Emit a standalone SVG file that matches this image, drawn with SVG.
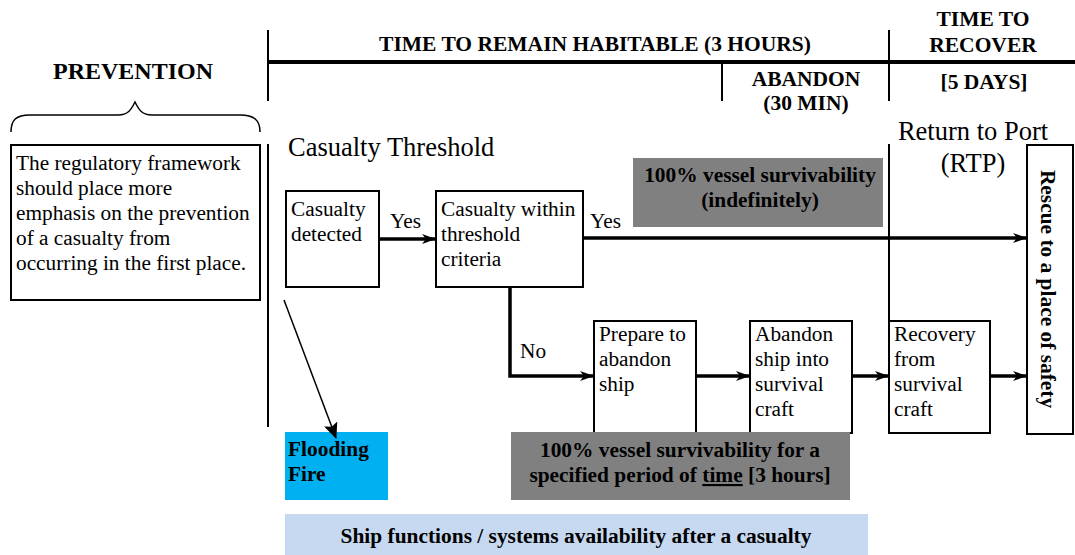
<svg xmlns="http://www.w3.org/2000/svg" width="1075" height="555" viewBox="0 0 1075 555">
  <style>
    .box { fill: #fff; stroke: #000; stroke-width: 2; }
    .tl { stroke: #000; stroke-width: 2; fill: none; }
    .flow { stroke: #000; stroke-width: 3.5; fill: none; }
    .thin { stroke: #000; stroke-width: 1.5; fill: none; }
  </style>
  <defs>
    <marker id="arrow" viewBox="0 0 14 10" refX="13" refY="5" markerWidth="14" markerHeight="10" markerUnits="userSpaceOnUse" orient="auto">
      <path d="M0,0 L14,5 L0,10 L4,5 Z" fill="#000"/>
    </marker>
    <marker id="arrowBig" viewBox="0 0 16 14" refX="15" refY="7" markerWidth="16" markerHeight="14" markerUnits="userSpaceOnUse" orient="auto">
      <path d="M0,0 L16,7 L0,14 L3,7 Z" fill="#000"/>
    </marker>
  </defs>

  <!-- Timeline header -->
  <g id="timeline" font-family="Liberation Serif" font-weight="bold" font-size="21.5" text-anchor="middle">
    <line class="tl" x1="268" y1="30" x2="268" y2="101"/>
    <line x1="268" y1="62" x2="1075" y2="62" stroke="#000" stroke-width="4"/>
    <line class="tl" x1="722" y1="62" x2="722" y2="101"/>
    <line class="tl" x1="889" y1="30" x2="889" y2="101"/>
    <text x="133" y="79" font-size="24">PREVENTION</text>
    <text x="595" y="51">TIME TO REMAIN HABITABLE (3 HOURS)</text>
    <text x="983" y="26">TIME TO</text>
    <text x="983" y="52">RECOVER</text>
    <text x="806" y="86">ABANDON</text>
    <text x="806" y="110">(30 MIN)</text>
    <text x="984" y="89">[5 DAYS]</text>
    <path class="thin" d="M11,132 C11,120 16,115 30,115 L118,115 C128,115 131,110 135,102 C139,110 142,115 152,115 L240,115 C254,115 260,120 260,132" stroke-width="2"/>
  </g>

  <!-- Phase dividers -->
  <g id="dividers" font-family="Liberation Serif" font-size="26.5">
    <line class="tl" x1="268" y1="144" x2="268" y2="427"/>
    <line class="tl" x1="889" y1="144" x2="889" y2="434"/>
    <text x="288" y="156">Casualty Threshold</text>
    <text x="973" y="140" text-anchor="middle">Return to Port</text>
    <text x="973" y="172" text-anchor="middle">(RTP)</text>
  </g>

  <g id="prevention-note" font-family="Liberation Serif" font-size="21.3">
    <rect class="box" x="11" y="145" width="249" height="155"/>
    <text x="16" y="170">The regulatory framework</text>
    <text x="16" y="195">should place more</text>
    <text x="16" y="220">emphasis on the prevention</text>
    <text x="16" y="245">of a casualty from</text>
    <text x="16" y="270">occurring in the first place.</text>
  </g>

  <g id="casualty-detected" font-family="Liberation Serif" font-size="21.3">
    <rect class="box" x="286" y="191" width="93" height="96"/>
    <text x="291" y="216">Casualty</text>
    <text x="291" y="241">detected</text>
  </g>

  <g id="within-threshold" font-family="Liberation Serif" font-size="21.3">
    <rect class="box" x="436" y="191" width="147" height="96"/>
    <text x="441" y="216">Casualty within</text>
    <text x="441" y="241">threshold</text>
    <text x="441" y="266">criteria</text>
  </g>

  <g id="survivability-indefinite" font-family="Liberation Serif" font-size="21.4" font-weight="bold" text-anchor="middle">
    <rect x="633" y="158" width="250" height="69" fill="#808080"/>
    <text x="760" y="182">100% vessel survivability</text>
    <text x="760" y="207">(indefinitely)</text>
  </g>

  <g id="prepare-abandon" font-family="Liberation Serif" font-size="21.3">
    <rect class="box" x="594" y="321" width="102" height="112"/>
    <text x="599" y="341">Prepare to</text>
    <text x="599" y="366">abandon</text>
    <text x="599" y="391">ship</text>
  </g>

  <g id="abandon-ship" font-family="Liberation Serif" font-size="21.3">
    <rect class="box" x="750" y="321" width="102" height="112"/>
    <text x="755" y="341">Abandon</text>
    <text x="755" y="366">ship into</text>
    <text x="755" y="391">survival</text>
    <text x="755" y="416">craft</text>
  </g>

  <g id="recovery" font-family="Liberation Serif" font-size="21.3">
    <rect class="box" x="889" y="321" width="101" height="112"/>
    <text x="894" y="341">Recovery</text>
    <text x="894" y="366">from</text>
    <text x="894" y="391">survival</text>
    <text x="894" y="416">craft</text>
  </g>

  <g id="rescue" font-family="Liberation Serif" font-size="21.4" font-weight="bold">
    <rect class="box" x="1027" y="145" width="46" height="289"/>
    <text transform="translate(1041,289) rotate(90)" x="0" y="0" text-anchor="middle">Rescue to a place of safety</text>
  </g>

  <g id="hazards" font-family="Liberation Serif" font-size="21.4" font-weight="bold">
    <rect x="285" y="432" width="103" height="68" fill="#00B0F0"/>
    <text x="288" y="456">Flooding</text>
    <text x="288" y="481">Fire</text>
  </g>

  <g id="survivability-timed" font-family="Liberation Serif" font-size="21.4" font-weight="bold" text-anchor="middle">
    <rect x="511" y="432" width="339" height="68" fill="#808080"/>
    <text x="680" y="457">100% vessel survivability for a</text>
    <text x="680" y="482">specified period of <tspan text-decoration="underline">time</tspan> [3 hours]</text>
  </g>

  <g id="ship-functions" font-family="Liberation Serif" font-size="21.4" font-weight="bold" text-anchor="middle">
    <rect x="285" y="514" width="583" height="41" fill="#C6D9F1"/>
    <text x="576" y="543">Ship functions / systems availability after a casualty</text>
  </g>

  <!-- Connectors -->
  <g id="connectors" font-family="Liberation Serif" font-size="21.3">
    <line class="flow" x1="379" y1="239" x2="435" y2="239" marker-end="url(#arrow)"/>
    <text x="390" y="228">Yes</text>
    <line class="flow" x1="583" y1="238" x2="1026" y2="238" marker-end="url(#arrow)"/>
    <text x="590" y="228">Yes</text>
    <path class="flow" d="M510,287 V376 H593" marker-end="url(#arrow)"/>
    <text x="520" y="358">No</text>
    <line class="flow" x1="696" y1="376" x2="749" y2="376" marker-end="url(#arrow)"/>
    <line class="flow" x1="852" y1="376" x2="888" y2="376" marker-end="url(#arrow)"/>
    <line class="flow" x1="990" y1="376" x2="1026" y2="376" marker-end="url(#arrow)"/>
    <line class="thin" x1="284" y1="300" x2="336" y2="438" marker-end="url(#arrowBig)"/>
  </g>
</svg>
